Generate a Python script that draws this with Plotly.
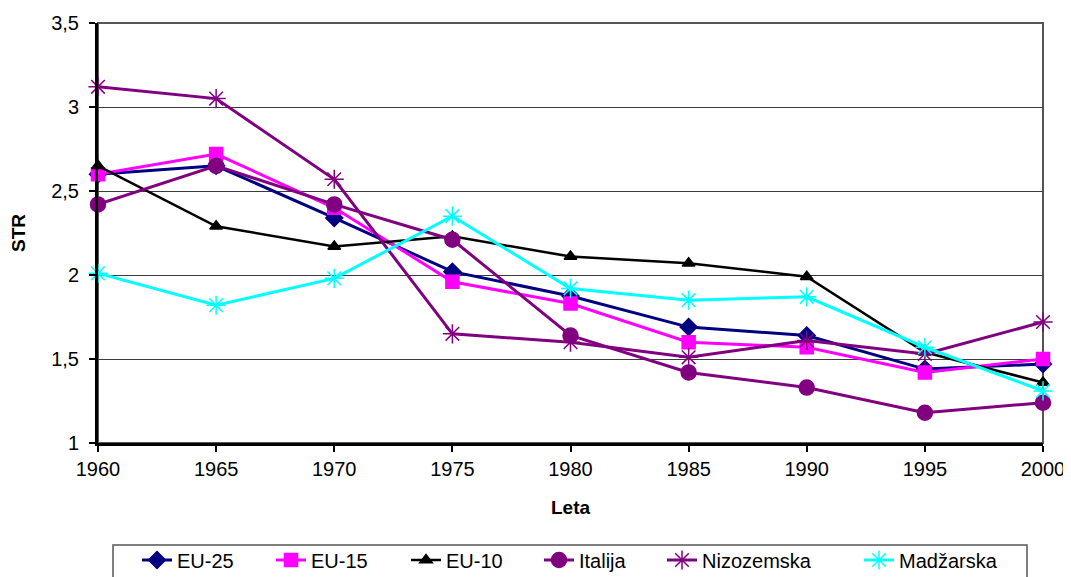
import plotly.graph_objects as go

years = [1960, 1965, 1970, 1975, 1980, 1985, 1990, 1995, 2000]
eu25 = [2.60, 2.65, 2.34, 2.02, 1.875, 1.69, 1.64, 1.44, 1.47]
eu15 = [2.60, 2.72, 2.40, 1.96, 1.83, 1.60, 1.57, 1.42, 1.50]
eu10 = [2.65, 2.29, 2.17, 2.23, 2.11, 2.07, 1.99, 1.54, 1.36]
italija = [2.42, 2.65, 2.42, 2.21, 1.64, 1.42, 1.33, 1.18, 1.24]
nizozemska = [3.12, 3.05, 2.57, 1.65, 1.60, 1.51, 1.61, 1.53, 1.72]
madzarska = [2.01, 1.82, 1.98, 2.35, 1.92, 1.85, 1.87, 1.57, 1.31]

names = ["EU-25", "EU-15", "EU-10", "Italija", "Nizozemska", "Madžarska"]
series = [eu25, eu15, eu10, italija, nizozemska, madzarska]
colors = ["#000080", "#FF00FF", "#000000", "#800080", "#800080", "#00FFFF"]
symbols = ["diamond", "square", "triangle-up", "circle", "asterisk-open", "asterisk-open"]
msizes = [13, 13, 11, 15, 16, 16]
lwidths = [3, 3, 2.5, 3, 3, 3]

# page has an 8px body margin; compensate so the plot sits where the reference has it
OFF = 8
W, H = 1071 - OFF, 577 - OFF
L, R, T, B = 98 - OFF, 28, 23 - OFF, 134
pw = W - L - R
ph = H - T - B
BOTTOM_PX = 443  # page pixel of plot bottom

legend_text_px = [179, 313, 448, 581, 704, 901]

fig = go.Figure()
for i, (nm, ys) in enumerate(zip(names, series)):
    lg = "legend" if i == 0 else f"legend{i+1}"
    fig.add_trace(go.Scatter(
        x=years, y=ys, name=nm, mode="lines+markers",
        line=dict(color=colors[i], width=lwidths[i]),
        marker=dict(symbol=symbols[i], size=msizes[i], color=colors[i],
                    line=dict(color=colors[i], width=1.5)),
        cliponaxis=False, legend=lg,
    ))

fam = "Liberation Sans, Arial, sans-serif"
font = dict(family=fam, size=20, color="black")
tfont = dict(family=fam, size=19, color="black")
lfont = dict(family=fam, size=20, color="black")

layout_legends = {}
for i, tx in enumerate(legend_text_px):
    key = "legend" if i == 0 else f"legend{i+1}"
    layout_legends[key] = dict(
        x=(tx - 42 - 98) / pw, y=(BOTTOM_PX - 560) / ph,
        xanchor="left", yanchor="middle",
        bgcolor="rgba(0,0,0,0)", borderwidth=0,
        font=lfont, orientation="h",
    )

fig.update_layout(
    width=W, height=H,
    margin=dict(l=L, r=R, t=T, b=B, autoexpand=False),
    paper_bgcolor="white", plot_bgcolor="white",
    separators=", ",
    font=font,
    showlegend=True,
    xaxis=dict(
        range=[1960, 2000], tickmode="array", tickvals=years,
        ticktext=[str(y) for y in years],
        showgrid=False, zeroline=False,
        showline=True, linecolor="black", linewidth=3,
        ticks="outside", ticklen=6, tickwidth=2, tickcolor="black",
        tickfont=font,
        title=dict(text="<b>Leta</b>", font=tfont, standoff=22),
    ),
    yaxis=dict(
        range=[1, 3.5], tickmode="array", tickvals=[1, 1.5, 2, 2.5, 3, 3.5],
        ticktext=["1", "1,5", "2", "2,5", "3", "3,5"],
        showgrid=True, gridcolor="#3a3a3a", gridwidth=1, zeroline=False,
        showline=True, linecolor="black", linewidth=3,
        ticks="outside", ticklen=6, tickwidth=2, tickcolor="black",
        tickfont=font, ticklabelstandoff=6,
        title=dict(text="<b>STR</b>", font=tfont, standoff=24),
    ),
    shapes=[
        dict(type="rect", xref="paper", yref="paper", x0=0, x1=1, y0=0, y1=1,
             line=dict(color="#555555", width=2), layer="below"),
        dict(type="rect", xref="paper", yref="paper",
             x0=(113 - 98) / pw, x1=(1027 - 98) / pw,
             y0=(BOTTOM_PX - 590) / ph, y1=(BOTTOM_PX - 545) / ph,
             line=dict(color="#555555", width=1.5), layer="above"),
    ],
    **layout_legends,
)

fig.write_html("out.html")
